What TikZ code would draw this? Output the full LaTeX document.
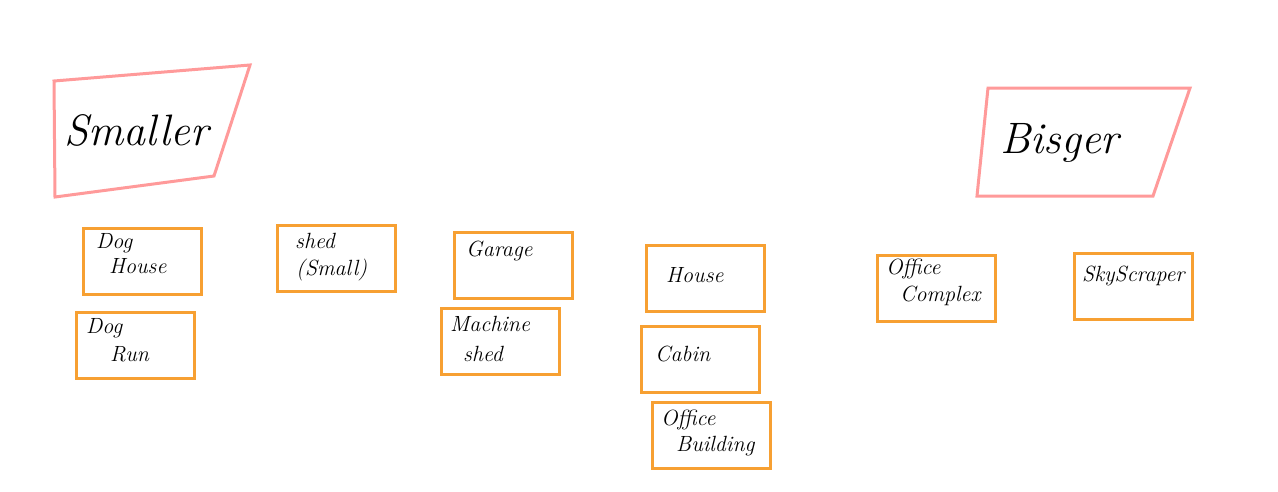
\documentclass[tikz,border=0pt]{standalone}
\usepackage{fontspec}
\definecolor{pinkline}{HTML}{FF9A9A}
\definecolor{orangeline}{HTML}{F7A032}
\begin{document}
\begin{tikzpicture}[x=1pt,y=-1pt,
  cat/.style={draw=pinkline,line width=3pt,line join=miter},
  item/.style={draw=orangeline,line width=2.5pt,minimum width=118pt,minimum height=66pt,inner sep=0pt,anchor=north west},
  big/.style={font=\fontsize{44}{48}\selectfont\itshape,anchor=base west,inner sep=0pt},
  lab/.style={font=\fontsize{22}{26}\selectfont\itshape,anchor=base west,inner sep=0pt}]
\useasboundingbox (0,0) rectangle (1278,491);
% category shapes
\draw[cat] (54,81) coordinate (s1) -- (250,65) coordinate (s2) -- (214,176) coordinate (s3) -- (55,197) coordinate (s4) -- cycle;
\node[big] (smaller) at (64,145) {Smaller};
\draw[cat] (988,88) coordinate (b1) -- (1190,88) coordinate (b2) -- (1153,196) coordinate (b3) -- (977,196) coordinate (b4) -- cycle;
\node[big] (bigger) at (1000,153) {Bisger};
% item boxes
\node[item] (doghouse) at (82,227) {};
\node[lab] (doghouse1) at (96,248) {Dog};
\node[lab] (doghouse2) at (109,273) {House};
\node[item] (dogrun) at (75,311) {};
\node[lab] (dogrun1) at (86,333) {Dog};
\node[lab] (dogrun2) at (110,361) {Run};
\node[item] (shed) at (276,224) {};
\node[lab] (shed1) at (295,248) {shed};
\node[lab] (shed2) at (296,275) {(Small)};
\node[item] (garage) at (453,231) {};
\node[lab] (garage1) at (466,256) {Garage};
\node[item] (machine) at (440,307) {};
\node[lab] (machine1) at (450,331) {Machine};
\node[lab] (machine2) at (463,361) {shed};
\node[item] (house) at (645,244) {};
\node[lab] (house1) at (666,282) {House};
\node[item] (cabin) at (640,325) {};
\node[lab] (cabin1) at (655,361) {Cabin};
\node[item] (officeb) at (651,401) {};
\node[lab] (officeb1) at (661,425) {Office};
\node[lab] (officeb2) at (676,451) {Building};
\node[item] (officec) at (876,254) {};
\node[lab] (officec1) at (886,274) {Office};
\node[lab] (officec2) at (900,301) {Complex};
\node[item] (sky) at (1073,252) {};
\node[lab] (sky1) at (1082,281) {SkyScraper};
\end{tikzpicture}
\end{document}
